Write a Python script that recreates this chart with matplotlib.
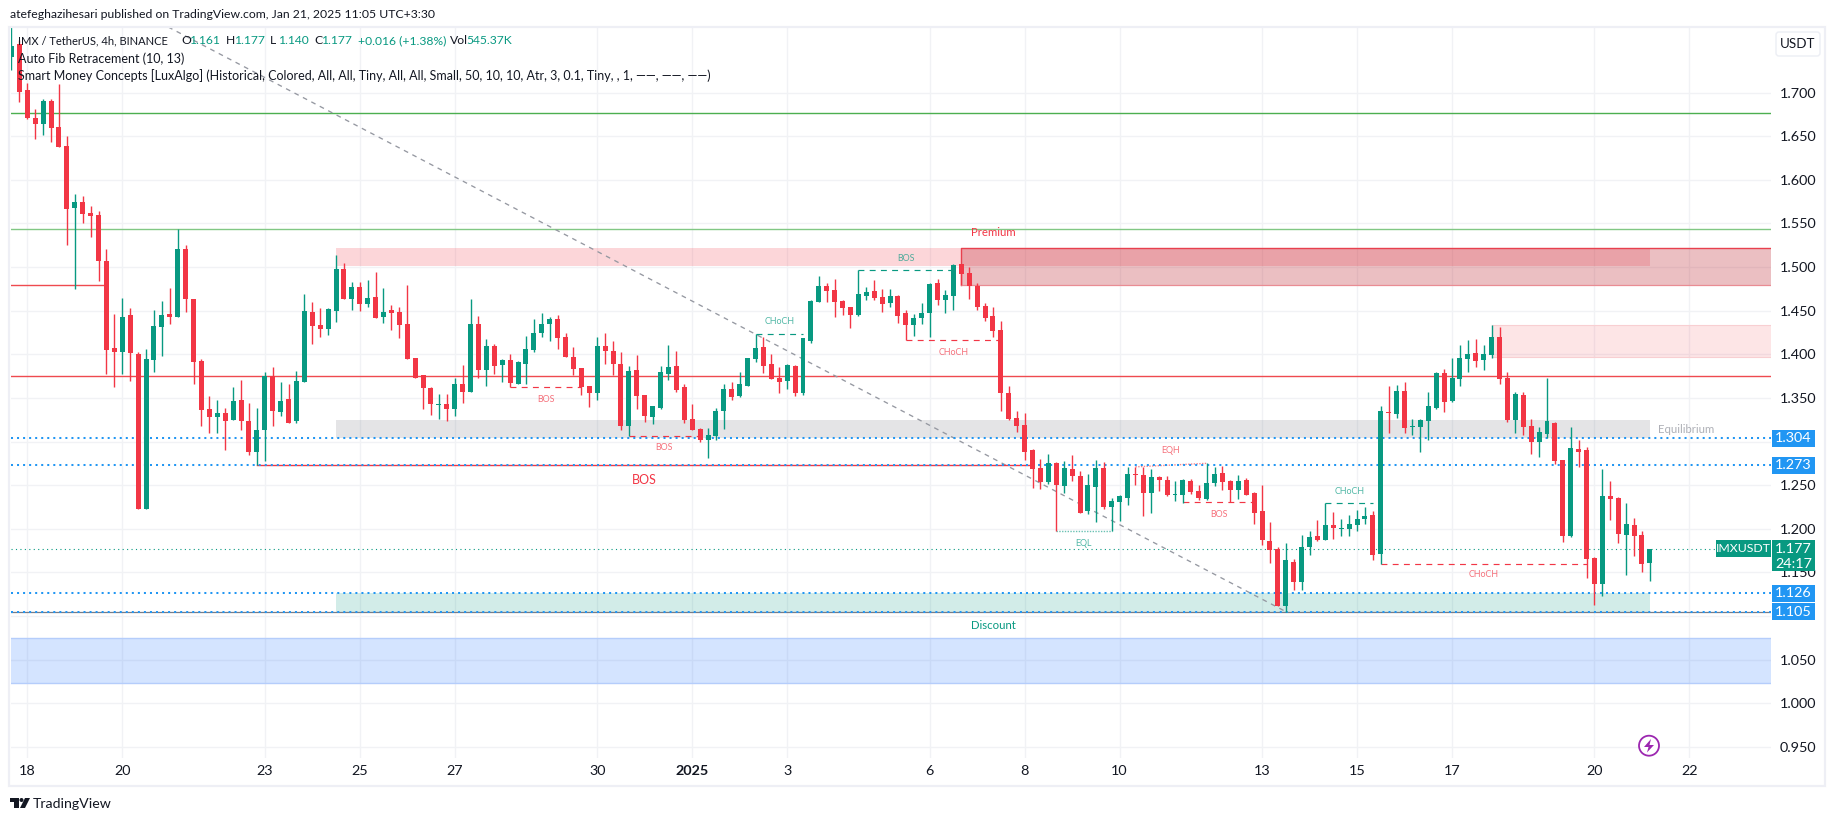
"""IMX/USDT 4h candle chart in the TradingView look."""
import matplotlib
matplotlib.use('Agg')
import matplotlib.pyplot as plt
from matplotlib.patches import Circle, FancyBboxPatch, Polygon, Rectangle
from matplotlib.transforms import IdentityTransform

plt.rcParams['font.family'] = ['Lato', 'DejaVu Sans']

# first bar sits two bars before Dec 18, bars are 4h apart
first_bar = -2

opens = [
    1.7405, 1.756, 1.703, 1.671, 1.664, 1.690, 1.661, 1.639, 1.568, 1.575,
    1.562, 1.560, 1.507, 1.407, 1.403, 1.445, 1.400, 1.223, 1.393, 1.431,
    1.446, 1.443, 1.521, 1.463, 1.392, 1.337, 1.328, 1.333, 1.325, 1.348,
    1.323, 1.288, 1.313, 1.375, 1.334, 1.349, 1.323, 1.368, 1.448, 1.434,
    1.429, 1.450, 1.498, 1.463, 1.477, 1.458, 1.466, 1.443, 1.451, 1.448,
    1.435, 1.396, 1.376, 1.361, 1.342, 1.343, 1.337, 1.366, 1.357, 1.435,
    1.382, 1.410, 1.388, 1.393, 1.366, 1.389, 1.405, 1.424, 1.435, 1.440,
    1.420, 1.397, 1.384, 1.364, 1.356, 1.410, 1.404, 1.389, 1.318, 1.382,
    1.353, 1.328, 1.338, 1.378, 1.387, 1.362, 1.326, 1.314, 1.302, 1.306,
    1.335, 1.360, 1.352, 1.364, 1.395, 1.408, 1.389, 1.373, 1.369, 1.387,
    1.356, 1.415, 1.460, 1.478, 1.474, 1.461, 1.454, 1.445, 1.467, 1.473,
    1.466, 1.459, 1.467, 1.447, 1.434, 1.442, 1.447, 1.482, 1.462, 1.467,
    1.503, 1.493, 1.478, 1.455, 1.444, 1.428, 1.356, 1.327, 1.319, 1.290,
    1.270, 1.254, 1.275, 1.249, 1.268, 1.261, 1.220, 1.248, 1.270, 1.225,
    1.231, 1.235, 1.263, 1.262, 1.241, 1.259, 1.256, 1.239, 1.239, 1.255,
    1.243, 1.234, 1.252, 1.264, 1.255, 1.244, 1.256, 1.241, 1.220, 1.186,
    1.177, 1.112, 1.162, 1.139, 1.179, 1.192, 1.187, 1.204, 1.200, 1.200,
    1.204, 1.211, 1.216, 1.171, 1.334, 1.332, 1.358, 1.317, 1.317, 1.324,
    1.338, 1.379, 1.346, 1.372, 1.395, 1.401, 1.393, 1.399, 1.420, 1.373,
    1.325, 1.353, 1.318, 1.299, 1.309, 1.321, 1.279, 1.192, 1.291, 1.290,
    1.166, 1.137, 1.238, 1.235, 1.193, 1.204, 1.193, 1.161]
highs = [
    1.776, 1.760, 1.711, 1.681, 1.693, 1.693, 1.710, 1.650, 1.584, 1.581,
    1.570, 1.564, 1.521, 1.446, 1.465, 1.453, 1.403, 1.406, 1.451, 1.461,
    1.476, 1.544, 1.525, 1.463, 1.395, 1.352, 1.348, 1.338, 1.362, 1.371,
    1.344, 1.339, 1.380, 1.385, 1.368, 1.366, 1.381, 1.469, 1.460, 1.453,
    1.453, 1.514, 1.505, 1.483, 1.483, 1.485, 1.494, 1.476, 1.457, 1.454,
    1.479, 1.396, 1.376, 1.362, 1.354, 1.354, 1.373, 1.388, 1.463, 1.444,
    1.418, 1.412, 1.395, 1.400, 1.392, 1.421, 1.440, 1.447, 1.443, 1.445,
    1.425, 1.408, 1.384, 1.364, 1.420, 1.424, 1.415, 1.403, 1.387, 1.399,
    1.353, 1.341, 1.387, 1.411, 1.404, 1.366, 1.343, 1.315, 1.315, 1.339,
    1.366, 1.368, 1.380, 1.396, 1.423, 1.420, 1.400, 1.385, 1.389, 1.388,
    1.419, 1.462, 1.490, 1.482, 1.486, 1.462, 1.454, 1.497, 1.477, 1.485,
    1.475, 1.475, 1.468, 1.451, 1.446, 1.459, 1.482, 1.486, 1.474, 1.503,
    1.503, 1.500, 1.482, 1.459, 1.454, 1.438, 1.364, 1.335, 1.333, 1.291,
    1.280, 1.286, 1.276, 1.278, 1.285, 1.266, 1.263, 1.279, 1.276, 1.235,
    1.239, 1.271, 1.271, 1.271, 1.268, 1.260, 1.260, 1.255, 1.257, 1.257,
    1.250, 1.275, 1.271, 1.272, 1.256, 1.262, 1.258, 1.242, 1.250, 1.208,
    1.179, 1.184, 1.165, 1.193, 1.197, 1.210, 1.229, 1.219, 1.211, 1.216,
    1.221, 1.225, 1.220, 1.341, 1.364, 1.365, 1.368, 1.326, 1.326, 1.357,
    1.380, 1.383, 1.396, 1.411, 1.416, 1.418, 1.411, 1.434, 1.431, 1.380,
    1.357, 1.357, 1.326, 1.317, 1.373, 1.322, 1.279, 1.317, 1.302, 1.294,
    1.168, 1.268, 1.255, 1.236, 1.229, 1.212, 1.197, 1.177]
lows = [
    1.726, 1.689, 1.670, 1.647, 1.651, 1.644, 1.638, 1.525, 1.475, 1.551,
    1.534, 1.484, 1.377, 1.362, 1.378, 1.369, 1.223, 1.223, 1.380, 1.398,
    1.435, 1.443, 1.448, 1.366, 1.318, 1.310, 1.310, 1.290, 1.325, 1.313,
    1.284, 1.273, 1.278, 1.318, 1.329, 1.321, 1.321, 1.368, 1.412, 1.420,
    1.422, 1.437, 1.463, 1.451, 1.450, 1.454, 1.442, 1.436, 1.428, 1.419,
    1.395, 1.373, 1.337, 1.331, 1.326, 1.323, 1.329, 1.344, 1.357, 1.373,
    1.364, 1.377, 1.368, 1.362, 1.366, 1.366, 1.403, 1.420, 1.415, 1.406,
    1.397, 1.376, 1.353, 1.340, 1.348, 1.389, 1.376, 1.313, 1.306, 1.337,
    1.322, 1.320, 1.337, 1.371, 1.357, 1.321, 1.313, 1.299, 1.281, 1.302,
    1.314, 1.348, 1.351, 1.364, 1.391, 1.379, 1.372, 1.356, 1.360, 1.352,
    1.353, 1.413, 1.460, 1.460, 1.443, 1.445, 1.430, 1.444, 1.462, 1.462,
    1.449, 1.454, 1.436, 1.416, 1.421, 1.435, 1.420, 1.457, 1.447, 1.451,
    1.479, 1.463, 1.451, 1.438, 1.420, 1.335, 1.325, 1.311, 1.279, 1.247,
    1.246, 1.251, 1.198, 1.241, 1.255, 1.218, 1.217, 1.208, 1.223, 1.197,
    1.209, 1.227, 1.250, 1.215, 1.218, 1.243, 1.238, 1.232, 1.230, 1.240,
    1.233, 1.233, 1.249, 1.244, 1.231, 1.234, 1.239, 1.206, 1.181, 1.161,
    1.111, 1.105, 1.130, 1.130, 1.170, 1.186, 1.187, 1.188, 1.192, 1.192,
    1.197, 1.205, 1.164, 1.160, 1.310, 1.327, 1.310, 1.307, 1.288, 1.302,
    1.337, 1.334, 1.345, 1.364, 1.380, 1.385, 1.382, 1.396, 1.366, 1.322,
    1.310, 1.307, 1.286, 1.282, 1.304, 1.274, 1.185, 1.190, 1.271, 1.143,
    1.113, 1.123, 1.210, 1.184, 1.147, 1.169, 1.150, 1.140]
closes = [
    1.7535, 1.701, 1.671, 1.664, 1.690, 1.660, 1.638, 1.567, 1.575, 1.561,
    1.559, 1.507, 1.405, 1.403, 1.443, 1.401, 1.223, 1.395, 1.432, 1.445,
    1.443, 1.521, 1.463, 1.391, 1.336, 1.328, 1.333, 1.323, 1.346, 1.323,
    1.288, 1.313, 1.375, 1.335, 1.346, 1.321, 1.369, 1.450, 1.432, 1.429,
    1.452, 1.498, 1.463, 1.477, 1.458, 1.465, 1.442, 1.448, 1.447, 1.434,
    1.395, 1.373, 1.361, 1.343, 1.343, 1.337, 1.366, 1.357, 1.435, 1.382,
    1.410, 1.387, 1.393, 1.367, 1.391, 1.406, 1.424, 1.435, 1.440, 1.419,
    1.397, 1.383, 1.362, 1.356, 1.410, 1.404, 1.389, 1.318, 1.381, 1.352,
    1.329, 1.341, 1.380, 1.385, 1.359, 1.325, 1.313, 1.302, 1.307, 1.335,
    1.360, 1.351, 1.366, 1.396, 1.407, 1.387, 1.372, 1.368, 1.388, 1.356,
    1.419, 1.461, 1.478, 1.473, 1.460, 1.453, 1.445, 1.469, 1.471, 1.465,
    1.458, 1.467, 1.444, 1.434, 1.442, 1.447, 1.481, 1.462, 1.468, 1.502,
    1.492, 1.478, 1.454, 1.442, 1.427, 1.356, 1.326, 1.318, 1.288, 1.268,
    1.254, 1.275, 1.250, 1.270, 1.260, 1.218, 1.250, 1.270, 1.225, 1.232,
    1.238, 1.263, 1.262, 1.241, 1.259, 1.256, 1.239, 1.240, 1.256, 1.242,
    1.235, 1.252, 1.263, 1.254, 1.244, 1.255, 1.239, 1.218, 1.187, 1.176,
    1.111, 1.164, 1.139, 1.179, 1.190, 1.187, 1.204, 1.201, 1.201, 1.205,
    1.211, 1.215, 1.170, 1.335, 1.333, 1.358, 1.315, 1.318, 1.325, 1.341,
    1.379, 1.345, 1.373, 1.396, 1.400, 1.392, 1.400, 1.420, 1.372, 1.325,
    1.354, 1.317, 1.299, 1.311, 1.324, 1.278, 1.192, 1.293, 1.288, 1.165,
    1.137, 1.238, 1.234, 1.194, 1.205, 1.192, 1.160, 1.177]

price_ticks = [0.95, 1.0, 1.05, 1.1, 1.15, 1.2, 1.25, 1.3, 1.35, 1.4, 1.45,
               1.5, 1.55, 1.6, 1.65, 1.7]
# the scale drops these two, the alert tags sit on them
hidden_ticks = [1.1, 1.3]
day_bars = [0, 12, 30, 42, 54, 72, 84, 96, 114, 126, 138, 156, 168, 180, 198, 210]
day_labels = ['18', '20', '23', '25', '27', '30', '2025', '3', '6', '8', '10',
              '13', '15', '17', '20', '22']

last_price = 1.177
alert_levels = [1.304, 1.273, 1.126, 1.105]

# bar where the swing line starts, bar where it ends, level, label
structure_start = [29, 61, 76, 92, 105, 111, 146, 164, 171]
structure_end = [127, 70, 85, 98, 117, 123, 155, 170, 197]
structure_level = [1.273, 1.362, 1.3067, 1.423, 1.4963, 1.416, 1.2304, 1.229, 1.160]
structure_text = ['BOS', 'BOS', 'BOS', 'CHoCH', 'BOS', 'CHoCH', 'BOS', 'CHoCH', 'CHoCH']
structure_bull = [False, False, False, True, True, False, False, True, False]
structure_label_price = [1.2555, 1.3484, 1.2933, 1.4374, 1.510, 1.402, 1.2165, 1.2425, 1.1477]

premium_zone = (39, 205, 1.501, 1.5215)
supply_zone = (118, 221, 1.480, 1.5215)
upper_zone = (185, 221, 1.3965, 1.4336)
equilibrium_zone = (39, 205, 1.3044, 1.3246)
discount_zone = (39, 205, 1.105, 1.126)
demand_zone = (-3, 221, 1.0227, 1.0743)

fib_bars = [17.8, 159]
fib_prices = [1.7753, 1.105]

W, H = 1835, 821
RED = '#f23645'
GREEN = '#089981'
BLUE = '#2196f3'
INK = '#131722'
GRID = '#f1f2f5'
FRAME = '#eeeff5'

fig = plt.figure(figsize=(W / 100, H / 100), dpi=100, facecolor='white')
left, right, top, bottom = 10.7, 1771, 27, 757.7
ax = fig.add_axes([left / W, 1 - bottom / H, (right - left) / W, (bottom - top) / H])
ax.set_xlim(-2.1, 220.3)
ax.set_ylim(0.9375, 1.7753)
for s in ax.spines.values():
    s.set_visible(False)
ax.set_axisbelow(True)
ax.grid(True, color=GRID, lw=1.0)

ax.yaxis.tick_right()
ax.set_yticks(price_ticks)
ax.set_yticklabels(['' if p in hidden_ticks else '%.3f' % p for p in price_ticks])
ax.set_xticks(day_bars)
ax.set_xticklabels(day_labels)
ax.tick_params(axis='y', length=0, pad=6.5, labelsize=10.4, labelcolor=INK)
ax.tick_params(axis='x', length=0, pad=5.5, labelsize=10.4, labelcolor=INK)
for lab in ax.get_xticklabels():
    if lab.get_text() == '2025':
        lab.set_fontweight('bold')


def add_zone(zone, color, alpha):
    x0, x1, y0, y1 = zone
    ax.add_patch(Rectangle((x0, y0), x1 - x0, y1 - y0, facecolor=color,
                           alpha=alpha, edgecolor='none', zorder=1))


add_zone(premium_zone, RED, 0.2)
add_zone(supply_zone, '#bf2c37', 0.3)
add_zone(upper_zone, RED, 0.13)
add_zone(equilibrium_zone, '#787b86', 0.2)
add_zone(discount_zone, GREEN, 0.18)
add_zone(demand_zone, '#2979ff', 0.2)

# zone edges
ax.plot([supply_zone[0], supply_zone[0], supply_zone[1]],
        [supply_zone[2], supply_zone[3], supply_zone[3]], color='#e8404e', lw=1.0, zorder=2)
ax.plot(supply_zone[:2], [supply_zone[2]] * 2, color='#e98c93', lw=0.9, zorder=2)
ax.plot(upper_zone[:2], [upper_zone[2]] * 2, color='#f8cfd2', lw=0.8, zorder=2)
ax.plot(upper_zone[:2], [upper_zone[3]] * 2, color='#f8cfd2', lw=0.8, zorder=2)
ax.plot(demand_zone[:2], [demand_zone[2]] * 2, color='#b5cdfb', lw=1.0, zorder=2)
ax.plot(demand_zone[:2], [demand_zone[3]] * 2, color='#b5cdfb', lw=1.0, zorder=2)

# fib levels
ax.axhline(1.677, color='#4caf50', lw=1.0, zorder=2)
ax.axhline(1.5435, color='#81c784', lw=1.0, zorder=2)
ax.axhline(1.3755, color='#ef4a4f', lw=1.0, zorder=2)
ax.axhline(1.105, color='#787b86', lw=0.9, zorder=2)
ax.plot([-3, 10], [1.480, 1.480], color='#ef4a4f', lw=1.0, zorder=2)
ax.plot(fib_bars, fib_prices, color='#9598a1', lw=0.95, ls=(0, (3.6, 3.6)), zorder=2)

# structure lines
for x0, x1, lvl, txt, bull, yl in zip(structure_start, structure_end, structure_level,
                                      structure_text, structure_bull, structure_label_price):
    col = GREEN if bull else RED
    big = x1 - x0 > 50
    ax.plot([x0, x1], [lvl, lvl], color=col, lw=1.0 if big else 0.85, zorder=2,
            ls='-' if big else (0, (5, 4.5)))
    ax.text((x0 + x1) / 2, yl, txt, color=col, ha='center', va='center',
            fontsize=9 if big else 6.4, alpha=1 if big else 0.7, zorder=4)

# equal highs and lows
ax.plot([130, 137], [1.198, 1.198], color=GREEN, lw=1.0, ls=(0, (1, 1)), alpha=0.6, zorder=2)
ax.plot([140, 149], [1.271, 1.275], color=RED, lw=1.0, ls=(0, (1, 1)), alpha=0.6, zorder=2)
ax.text(133.5, 1.183, 'EQL', color=GREEN, ha='center', va='center', fontsize=6.4, alpha=0.7)
ax.text(144.5, 1.2895, 'EQH', color=RED, ha='center', va='center', fontsize=6.4, alpha=0.7)

ax.text(122, 1.5395, 'Premium', color=RED, ha='center', va='center', fontsize=8.2)
ax.text(122, 1.0888, 'Discount', color=GREEN, ha='center', va='center', fontsize=8.2)
ax.text(209.6, 1.3135, 'Equilibrium', color='#787b86', ha='center', va='center',
        fontsize=8.2, alpha=0.6)

# alert and last price lines
for lvl in alert_levels:
    ax.axhline(lvl, color=BLUE, lw=1.45, ls=(0, (1, 2)), zorder=3)
ax.axhline(last_price, color=GREEN, lw=0.8, ls=(0, (1, 3)), zorder=3)

# candles
bars = range(first_bar, first_bar + len(opens))
for x, o, h, l, c in zip(bars, opens, highs, lows, closes):
    col = GREEN if c >= o else RED
    ax.vlines(x, l, h, color=col, lw=1.0, zorder=5)
    ax.bar(x, max(abs(c - o), 0.0012), bottom=min(o, c), width=0.63, color=col,
           linewidth=0, zorder=5)


def price_tag(price, text, color, h_px=17, w_px=43):
    """Tag on the price scale, centred on the price."""
    h_price = h_px / 872
    trans = ax.get_yaxis_transform()
    ax.add_patch(Rectangle((1.0005, price - h_price / 2), w_px / (right - left), h_price,
                           transform=trans, facecolor=color, edgecolor='none',
                           clip_on=False, zorder=6))
    ax.text(1.0005 + w_px / 2 / (right - left), price, text, transform=trans, color='white',
            ha='center', va='center', fontsize=10.4, clip_on=False, zorder=7)


for lvl in alert_levels:
    price_tag(lvl, '%.3f' % lvl, BLUE)

# last price tag carries the countdown too
trans = ax.get_yaxis_transform()
tag_w = 43 / (right - left)
ax.add_patch(Rectangle((1.0005, last_price - 0.0257), tag_w, 31 / 872, transform=trans,
                       facecolor=GREEN, edgecolor='none', clip_on=False, zorder=6))
ax.text(1.0005 + tag_w / 2, last_price, '%.3f' % last_price, transform=trans, color='white',
        ha='center', va='center', fontsize=10.4, clip_on=False, zorder=7)
ax.text(1.0005 + tag_w / 2, last_price - 0.017, '24:17', transform=trans, color='white',
        ha='center', va='center', fontsize=10.4, clip_on=False, zorder=7)
ax.add_patch(Rectangle((1 - 55 / (right - left), last_price - 0.0098), 55 / (right - left),
                       17 / 872, transform=trans, facecolor=GREEN, edgecolor='none',
                       zorder=6))
ax.text(1 - 27.5 / (right - left), last_price, 'IMXUSDT', transform=trans, color='white',
        ha='center', va='center', fontsize=8.8, zorder=7)

# -- everything below is page furniture placed in pixels --
pixels = IdentityTransform()


def page_text(x, y, s, color=INK, size=9.0, **kw):
    fig.text(x / W, 1 - y / H, s, color=color, fontsize=size, va='center', **kw)


def page_patch(patch):
    patch.set_transform(pixels)
    fig.add_artist(patch)


page_patch(Rectangle((9, H - 785.7), 1816, 759, facecolor='none', edgecolor=FRAME, lw=1.6))
page_patch(FancyBboxPatch((1776, H - 56), 44, 24, boxstyle='round,pad=0,rounding_size=3',
                          facecolor='white', edgecolor='#eceef4', lw=1.0))
page_text(1798, 44, 'USDT', ha='center', size=9.6)

page_text(10, 15, 'atefeghazihesari published on TradingView.com, Jan 21, 2025 11:05 UTC+3:30',
          size=8.8)

page_text(18, 41, 'IMX / TetherUS, 4h, BINANCE', size=8.0)
for x, s, col in [(181, 'O', INK), (189, '1.161', GREEN), (226, 'H', INK), (234, '1.177', GREEN),
                  (270, 'L', INK), (278, '1.140', GREEN), (314, 'C', INK), (321, '1.177', GREEN),
                  (358, '+0.016 (+1.38%)', GREEN), (450, 'Vol', INK), (466, '545.37K', GREEN)]:
    page_text(x, 41, s, color=col, size=8.7)
page_text(18, 59, 'Auto Fib Retracement (10, 13)')
page_text(18, 76, 'Smart Money Concepts [LuxAlgo] (Historical, Colored, All, All, Tiny, All, All, '
                  'Small, 50, 10, 10, Atr, 3, 0.1, Tiny, , 1, \u2014\u2014, \u2014\u2014, \u2014\u2014)')

# bolt badge
page_patch(Circle((1649, H - 745.7), 10, facecolor='white', edgecolor='#9c27b0', lw=1.3))
page_patch(Polygon([(1651, H - 739), (1644, H - 747), (1648.5, H - 747), (1647, H - 752.5),
                    (1654, H - 745), (1649.5, H - 745)], closed=True,
                   facecolor='#9c27b0', edgecolor='none'))

# logo
page_patch(Polygon([(10, H - 798), (18.5, H - 798), (18.5, H - 808), (14, H - 808),
                    (14, H - 802), (10, H - 802)], closed=True, facecolor=INK, edgecolor='none'))
page_patch(Circle((21.5, H - 800), 2, facecolor=INK, edgecolor='none'))
page_patch(Polygon([(25, H - 798), (30, H - 798), (25, H - 808), (20, H - 808)], closed=True,
                   facecolor=INK, edgecolor='none'))
page_text(33, 804, 'TradingView', size=10.2)

fig.savefig('out.png', dpi=100, facecolor='white')
